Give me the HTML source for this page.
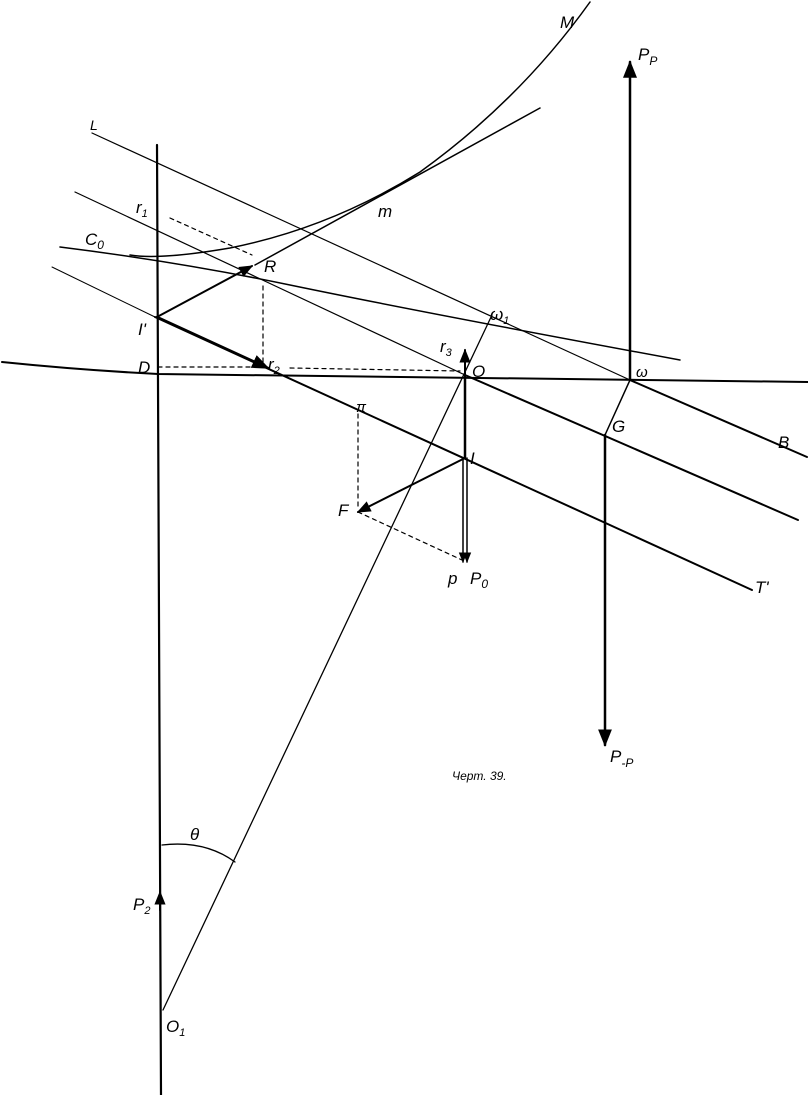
<!DOCTYPE html>
<html><head><meta charset="utf-8"><style>
html,body{margin:0;padding:0;background:#fff;width:808px;height:1095px;overflow:hidden}
svg{display:block}
text{font-family:"Liberation Sans",sans-serif;font-style:italic;fill:#000}
</style></head><body>
<svg width="808" height="1095" viewBox="0 0 808 1095" xmlns="http://www.w3.org/2000/svg">
<defs>
<marker id="a" viewBox="0 0 10 10" refX="9" refY="5" markerWidth="7" markerHeight="7" orient="auto-start-reverse"><path d="M0,1 L10,5 L0,9 z" fill="#000"/></marker>
</defs>
<g stroke="#000" fill="none" stroke-linecap="round">
<!-- main vertical -->
<line x1="157" y1="145" x2="161" y2="1095" stroke-width="2.2"/>
<!-- horizontal -->
<path d="M2,362 Q80,370 158,374 L808,382" stroke-width="2"/>
<!-- L - omega - B -->
<line x1="92" y1="133" x2="630" y2="380" stroke-width="1.2"/>
<line x1="630" y1="380" x2="807" y2="457" stroke-width="2"/>
<!-- line through O -->
<line x1="75" y1="192" x2="465" y2="375" stroke-width="1.2"/>
<line x1="465" y1="375" x2="798" y2="520" stroke-width="2"/>
<!-- C0 curve -->
<path d="M60,247 Q180,262 290,285 Q420,312 680,360" stroke-width="1.5"/>
<!-- T' -->
<line x1="52" y1="267" x2="155" y2="317" stroke-width="1"/>
<line x1="155" y1="317" x2="752" y2="590" stroke-width="2"/>
<!-- parabola M -->
<path d="M130,255 Q160,260 230,248 Q330,228 420,172 Q520,100 590,2" stroke-width="1.5"/>
<!-- tangent through I', R, m -->
<line x1="255" y1="265" x2="540" y2="108" stroke-width="1.5"/>
<line x1="157" y1="317" x2="252" y2="266" stroke-width="2" marker-end="url(#a)"/>
<!-- I' to r2 -->
<line x1="157" y1="317" x2="268" y2="368" stroke-width="2.5" marker-end="url(#a)"/>
<!-- O1 - omega1 -->
<line x1="163" y1="1010" x2="492" y2="315" stroke-width="1.3"/>
<!-- right vertical -->
<line x1="630" y1="380" x2="630" y2="62" stroke-width="2.5" marker-end="url(#a)"/>
<line x1="630" y1="380" x2="605" y2="435" stroke-width="1.5"/>
<line x1="605" y1="435" x2="605" y2="745" stroke-width="2.5" marker-end="url(#a)"/>
<!-- O up r3 -->
<line x1="465" y1="377" x2="465" y2="350" stroke-width="2" marker-end="url(#a)"/>
<line x1="465" y1="377" x2="465" y2="458" stroke-width="2.5"/>
<!-- I down Po -->
<line x1="463" y1="458" x2="463" y2="562" stroke-width="1.5" marker-end="url(#a)"/>
<line x1="467" y1="458" x2="467" y2="562" stroke-width="1.5" marker-end="url(#a)"/>
<!-- I to F -->
<line x1="465" y1="458" x2="358" y2="512" stroke-width="2" marker-end="url(#a)"/>
<!-- p2 arrow -->
<line x1="160" y1="910" x2="160" y2="892" stroke-width="2" marker-end="url(#a)"/>
<!-- dotted -->
<g stroke-width="1.2" stroke-dasharray="4,4">
<line x1="170" y1="218" x2="252" y2="255"/>
<line x1="263" y1="286" x2="263" y2="366"/>
<line x1="158" y1="367" x2="262" y2="367"/>
<line x1="290" y1="368" x2="460" y2="371"/>
<line x1="358" y1="414" x2="358" y2="508"/>
<line x1="358" y1="512" x2="462" y2="560"/>
</g>
<!-- theta arc -->
<path d="M162,845 Q205,840 235,862" stroke-width="1.3"/>
</g>
<g font-size="17">
<text x="90" y="130" font-size="14">L</text>
<text x="136" y="213">r<tspan font-size="11" dy="4">1</tspan></text>
<text x="85" y="245">C<tspan font-size="12" dy="4">0</tspan></text>
<text x="264" y="272">R</text>
<text x="138" y="335">I'</text>
<text x="138" y="373">D</text>
<text x="268" y="370">r<tspan font-size="11" dy="4">2</tspan></text>
<text x="378" y="217">m</text>
<text x="560" y="28">M</text>
<text x="638" y="60">P<tspan font-size="12" dy="5">P</tspan></text>
<text x="490" y="320">ω<tspan font-size="11" dy="4">1</tspan></text>
<text x="440" y="352">r<tspan font-size="11" dy="4">3</tspan></text>
<text x="472" y="377">O</text>
<text x="636" y="377" font-size="15">ω</text>
<text x="612" y="432">G</text>
<text x="778" y="448">B</text>
<text x="470" y="464">I</text>
<text x="356" y="412" font-size="15">π</text>
<text x="338" y="516">F</text>
<text x="448" y="584">p</text>
<text x="470" y="584">P<tspan font-size="12" dy="4">0</tspan></text>
<text x="755" y="593">T'</text>
<text x="610" y="762">P<tspan font-size="12" dy="5">-P</tspan></text>
<text x="452" y="780" font-size="12" font-style="normal" font-family="Liberation Serif,serif">Черт. 39.</text>
<text x="190" y="840" font-style="normal">θ</text>
<text x="133" y="910">P<tspan font-size="11" dy="4">2</tspan></text>
<text x="166" y="1032">O<tspan font-size="11" dy="4">1</tspan></text>
</g>
</svg>
</body></html>
